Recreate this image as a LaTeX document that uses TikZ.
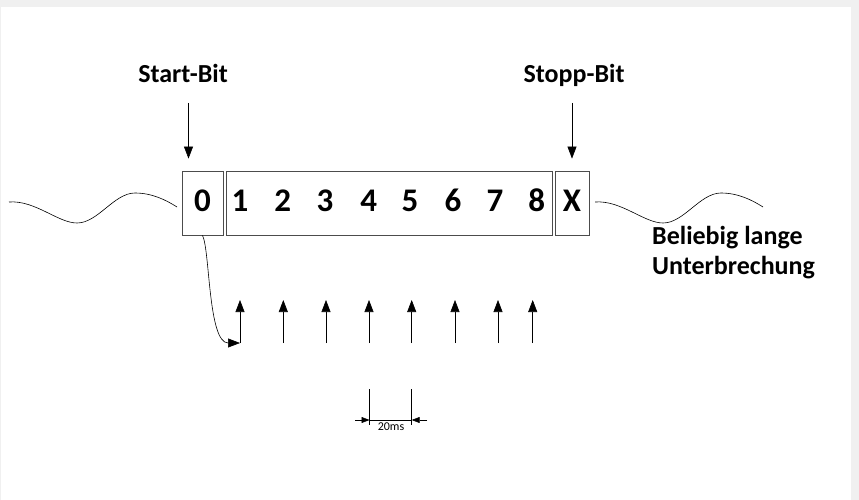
\documentclass[tikz,border=0pt]{standalone}
\usepackage{fontspec}
\setmainfont{Carlito}
\usetikzlibrary{arrows.meta,positioning}

\begin{document}
\begin{tikzpicture}[x=1pt,y=-1pt,
            bitbox/.style={draw=black!70, line width=0.8pt, minimum height=64pt, inner sep=0pt},
            bit/.style={font=\bfseries\fontsize{33}{36}\selectfont, anchor=base, inner sep=0pt},
            lbl/.style={font=\bfseries\fontsize{26}{30}\selectfont, anchor=base, inner sep=0pt},
            pfeil/.style={-{Triangle[length=12pt,width=9pt]}, line width=0.6pt},
            kpfeil/.style={-{Triangle[length=8pt,width=6pt]}, line width=0.5pt},
            welle/.style={line width=0.6pt},
        ]
        % Rahmen
        \fill[black!6] (0,0) rectangle (859,500);
        \fill[white] (1,7) rectangle (851,500);
        \useasboundingbox (0,0) rectangle (859,500);
        % Rahmen der Bits
        \node[bitbox, minimum width=41pt] (box0) at (202.5,203) {};
        \node[bitbox, minimum width=326pt] (daten) at (389,203) {};
        \node[bitbox, minimum width=34pt] (boxX) at (572,203) {};
        \node[bit] (n0) at (202.5,211) {0};
        \foreach \i/\x in {1/240,2/282.7,3/325,4/368.7,5/410,6/453,7/495,8/536.7}
            \node[bit] (n\i) at (\x,211) {\i};
        \node[bit] (nX) at (572,211) {X};
        % Beschriftung
        \node[lbl] (start) at (183,83) {Start-Bit};
        \node[lbl] (stopp) at (574,83) {Stopp-Bit};
        \node[font=\bfseries\fontsize{26}{30}\selectfont, anchor=west, align=left, inner sep=0pt] (pause) at (652,253) {Beliebig lange\\Unterbrechung};
        \coordinate (sa) at (188.5,103);
        \coordinate (sb) at (572,103);
        \draw[pfeil, shorten >=12pt] (sa) -- (sa |- box0.north);
        \draw[pfeil, shorten >=12pt] (sb) -- (boxX.north);
        % Wellen
        \draw[welle] (9,202) .. controls (35,200) and (58,223) .. (77,223)
            .. controls (98,223) and (114,193) .. (135,193)
            .. controls (152,193) and (166,200) .. (177,207);
        \draw[welle, shift={(586,0)}] (9,202) .. controls (35,200) and (58,223) .. (77,223)
            .. controls (98,223) and (114,193) .. (135,193)
            .. controls (152,193) and (166,200) .. (177,207);
        % Abtastzeitpunkte
        \foreach \i/\x in {1/240,2/283.3,3/326,4/369,5/411.7,6/455,7/498,8/532.7} {
            \coordinate (s\i) at (\x,343);
            \coordinate (t\i) at (\x,300);
            \draw[pfeil] (s\i) -- (t\i);
        }
        \draw[pfeil] (box0.south) .. controls (210,250) and (208,343) .. (s1);
        % Bitdauer
        \coordinate (ma) at (369.5,389);
        \coordinate (mb) at (411.7,389);
        \draw[line width=0.5pt] (ma) -- ++(0,36);
        \draw[line width=0.5pt] (mb) -- ++(0,36);
        \coordinate (pa) at (355,420);
        \coordinate (pb) at (427,420);
        \draw[kpfeil] (pa) -- (pa -| ma);
        \draw[kpfeil] (pb) -- (pb -| mb);
        \draw[line width=0.5pt] (pa -| ma) -- (pb -| mb);
        \node[font=\fontsize{12}{14}\selectfont, inner sep=0pt] (dauer) at (391,427) {20ms};
    \end{tikzpicture}
\end{document}
